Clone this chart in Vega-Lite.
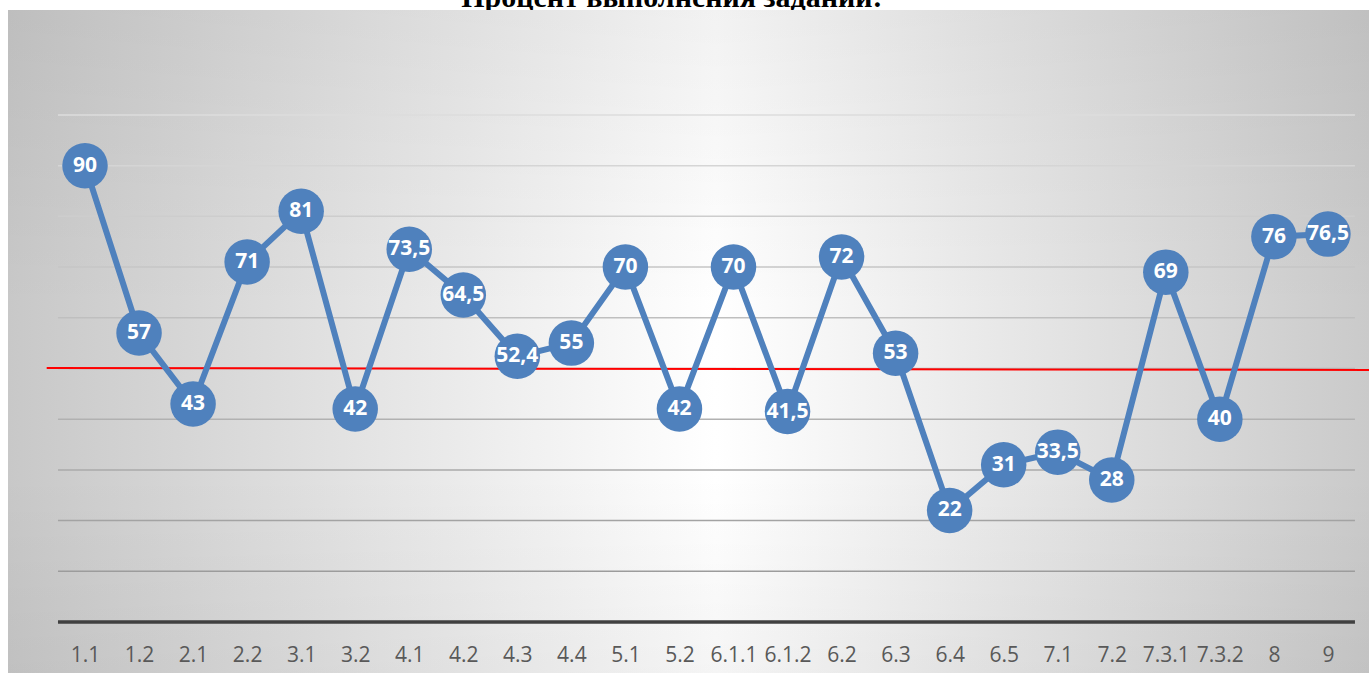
{
  "$schema": "https://vega.github.io/schema/vega-lite/v6.json",
  "width": 1361,
  "height": 663,
  "autosize": "none",
  "padding": {"left": 8, "top": 10, "right": 0, "bottom": 0},
  "background": "white",
  "config": {
    "view": {"stroke": null},
    "locale": {"number": {"decimal": ",", "thousands": " ", "grouping": [3], "currency": ["", ""]}}
  },
  "datasets": {
    "scores": [
      {"i": 0, "task": "1.1", "value": 90},
      {"i": 1, "task": "1.2", "value": 57},
      {"i": 2, "task": "2.1", "value": 43},
      {"i": 3, "task": "2.2", "value": 71},
      {"i": 4, "task": "3.1", "value": 81},
      {"i": 5, "task": "3.2", "value": 42},
      {"i": 6, "task": "4.1", "value": 73.5},
      {"i": 7, "task": "4.2", "value": 64.5},
      {"i": 8, "task": "4.3", "value": 52.4},
      {"i": 9, "task": "4.4", "value": 55},
      {"i": 10, "task": "5.1", "value": 70},
      {"i": 11, "task": "5.2", "value": 42},
      {"i": 12, "task": "6.1.1", "value": 70},
      {"i": 13, "task": "6.1.2", "value": 41.5},
      {"i": 14, "task": "6.2", "value": 72},
      {"i": 15, "task": "6.3", "value": 53},
      {"i": 16, "task": "6.4", "value": 22},
      {"i": 17, "task": "6.5", "value": 31},
      {"i": 18, "task": "7.1", "value": 33.5},
      {"i": 19, "task": "7.2", "value": 28},
      {"i": 20, "task": "7.3.1", "value": 69},
      {"i": 21, "task": "7.3.2", "value": 40},
      {"i": 22, "task": "8", "value": 76},
      {"i": 23, "task": "9", "value": 76.5}
    ],
    "grid": [{"g": 10}, {"g": 20}, {"g": 30}, {"g": 40}, {"g": 50}, {"g": 60}, {"g": 70}, {"g": 80}, {"g": 90}, {"g": 100}],
    "one": [{"k": 1}]
  },
  "layer": [
    {
      "data": {"name": "one"},
      "mark": {"type": "text", "font": "Liberation Serif", "fontSize": 30, "fontWeight": "bold", "color": "#000000", "align": "center", "baseline": "alphabetic"},
      "encoding": {
        "x": {
          "datum": 10.86, "type": "quantitative",
          "scale": {"domain": [-1.425, 23.76], "nice": false, "zero": false},
          "axis": {
            "values": [0,1,2,3,4,5,6,7,8,9,10,11,12,13,14,15,16,17,18,19,20,21,22,23],
            "labelExpr": "['1.1','1.2','2.1','2.2','3.1','3.2','4.1','4.2','4.3','4.4','5.1','5.2','6.1.1','6.1.2','6.2','6.3','6.4','6.5','7.1','7.2','7.3.1','7.3.2','8','9'][datum.value]",
            "title": null,
            "grid": false,
            "domain": false,
            "ticks": false,
            "zindex": 1,
            "labelOverlap": false,
            "labelBound": false,
            "labelFlush": false,
            "labelFont": "Open Sans",
            "labelFontSize": 21,
            "labelColor": "#595959",
            "labelBaseline": "middle",
            "labelPadding": 0,
            "offset": -18
          }
        },
        "y": {"datum": 121.3, "type": "quantitative", "scale": {"domain": [-10.06, 120.7], "nice": false, "zero": false}, "axis": null},
        "text": {"value": "Процент выполнения заданий:"}
      }
    },
    {
      "data": {"name": "one"},
      "mark": {
        "type": "rect",
        "fill": {
          "gradient": "linear",
          "x1": 0, "y1": 0, "x2": 1, "y2": 0,
          "stops": [
            {"offset": 0, "color": "#c8c8c8"},
            {"offset": 0.52, "color": "#ffffff"},
            {"offset": 1, "color": "#cacaca"}
          ]
        }
      },
      "encoding": {
        "x": {"datum": -1.425, "type": "quantitative"},
        "x2": {"datum": 23.76},
        "y": {"datum": 120.7, "type": "quantitative"},
        "y2": {"datum": -10.06}
      }
    },
    {
      "data": {"name": "one"},
      "mark": {
        "type": "rect",
        "fill": {
          "gradient": "linear",
          "x1": 0, "y1": 0, "x2": 0, "y2": 1,
          "stops": [
            {"offset": 0, "color": "rgba(0,0,0,0.05)"},
            {"offset": 0.45, "color": "rgba(0,0,0,0)"},
            {"offset": 0.7, "color": "rgba(0,0,0,0)"},
            {"offset": 1, "color": "rgba(0,0,0,0.04)"}
          ]
        }
      },
      "encoding": {
        "x": {"datum": -1.425, "type": "quantitative"},
        "x2": {"datum": 23.76},
        "y": {"datum": 120.7, "type": "quantitative"},
        "y2": {"datum": -10.06}
      }
    },
    {
      "data": {"name": "grid"},
      "mark": {"type": "rule", "strokeWidth": 1.5},
      "encoding": {
        "x": {"datum": -0.5, "type": "quantitative"},
        "x2": {"datum": 23.5},
        "y": {"field": "g", "type": "quantitative"},
        "color": {"field": "g", "type": "quantitative", "scale": {"domain": [10, 100], "range": ["#9c9c9c", "#dcdcdc"]}, "legend": null}
      }
    },
    {
      "data": {"name": "one"},
      "mark": {"type": "rule", "color": "#404040", "strokeWidth": 3.5},
      "encoding": {
        "x": {"datum": -0.5, "type": "quantitative"},
        "x2": {"datum": 23.5},
        "y": {"datum": 0, "type": "quantitative"}
      }
    },
    {
      "data": {"name": "one"},
      "mark": {"type": "rule", "color": "#ff0000", "strokeWidth": 2},
      "encoding": {
        "x": {"datum": -0.709, "type": "quantitative"},
        "x2": {"datum": 23.76},
        "y": {"datum": 50.1, "type": "quantitative"},
        "y2": {"datum": 49.7}
      }
    },
    {
      "data": {"name": "scores"},
      "mark": {"type": "line", "color": "#4f81bd", "strokeWidth": 6},
      "encoding": {
        "x": {"field": "i", "type": "quantitative"},
        "y": {"field": "value", "type": "quantitative"}
      }
    },
    {
      "data": {"name": "scores"},
      "mark": {"type": "circle", "color": "#4f81bd", "opacity": 1, "size": 2070},
      "encoding": {
        "x": {"field": "i", "type": "quantitative"},
        "y": {"field": "value", "type": "quantitative"}
      }
    },
    {
      "data": {"name": "scores"},
      "mark": {"type": "text", "color": "#ffffff", "font": "Open Sans", "fontWeight": "bold", "fontSize": 21, "align": "center", "baseline": "middle"},
      "encoding": {
        "x": {"field": "i", "type": "quantitative"},
        "y": {"field": "value", "type": "quantitative"},
        "text": {"field": "value", "type": "quantitative", "format": ".1~f"}
      }
    }
  ]
}
